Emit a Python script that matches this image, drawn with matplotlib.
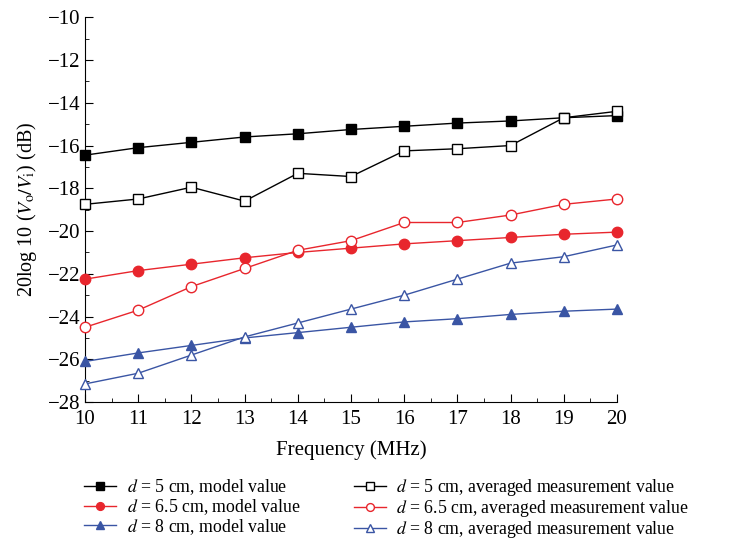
import matplotlib
matplotlib.use("Agg")
import matplotlib.pyplot as plt
from matplotlib.ticker import MultipleLocator

plt.rcParams["font.family"] = ["Liberation Serif", "DejaVu Serif"]
plt.rcParams["mathtext.fontset"] = "stix"

freq = [10, 11, 12, 13, 14, 15, 16, 17, 18, 19, 20]

d5_model = [-16.45, -16.1, -15.85, -15.6, -15.45, -15.25, -15.1, -14.95, -14.85, -14.7, -14.6]
d5_meas = [-18.75, -18.5, -17.95, -18.6, -17.3, -17.45, -16.25, -16.15, -16.0, -14.7, -14.4]
d65_model = [-22.25, -21.85, -21.55, -21.25, -21.0, -20.8, -20.6, -20.45, -20.3, -20.15, -20.05]
d65_meas = [-24.5, -23.7, -22.6, -21.75, -20.9, -20.45, -19.6, -19.6, -19.25, -18.75, -18.5]
d8_model = [-26.1, -25.7, -25.35, -25.0, -24.75, -24.5, -24.25, -24.1, -23.9, -23.75, -23.65]
d8_meas = [-27.15, -26.65, -25.8, -24.95, -24.3, -23.65, -23.0, -22.25, -21.5, -21.2, -20.65]

black = "#000000"
red = "#e8262d"
blue = "#3a55a4"

fig = plt.figure(figsize=(7.46, 5.39), dpi=100)
ax = fig.add_axes([0.114, 0.254, 0.713, 0.714])

series = [
    (d5_model, black, "s", True, r"$d$ = 5 cm, model value"),
    (d65_model, red, "o", True, r"$d$ = 6.5 cm, model value"),
    (d8_model, blue, "^", True, r"$d$ = 8 cm, model value"),
    (d5_meas, black, "s", False, r"$d$ = 5 cm, averaged measurement value"),
    (d65_meas, red, "o", False, r"$d$ = 6.5 cm, averaged measurement value"),
    (d8_meas, blue, "^", False, r"$d$ = 8 cm, averaged measurement value"),
]

for vals, c, m, filled, lab in series:
    ax.plot(freq, vals, color=c, marker=m, markersize=7.5, linewidth=1.0,
            markerfacecolor=c if filled else "white", markeredgecolor=c,
            markeredgewidth=1.0, label=lab, clip_on=False, zorder=3)

ax.set_xlim(10, 20)
ax.set_ylim(-28, -10)
ax.xaxis.set_major_locator(MultipleLocator(1))
ax.xaxis.set_minor_locator(MultipleLocator(0.5))
ax.yaxis.set_major_locator(MultipleLocator(2))
ax.yaxis.set_minor_locator(MultipleLocator(1))
ax.tick_params(which="both", direction="in", labelsize=15)
ax.tick_params(which="major", length=6)
ax.tick_params(which="minor", length=3)
ax.tick_params(axis="x", pad=6)
for s in ["top", "right"]:
    ax.spines[s].set_visible(False)

ax.set_xlabel("Frequency (MHz)", fontsize=15, labelpad=8)
ax.set_ylabel(r"20log 10 ($V_{\rm o}/V_{\rm i}$) (dB)", fontsize=14.5, labelpad=6)

handles, labels = ax.get_legend_handles_labels()
fig.legend(handles, labels, ncol=2, loc="upper left",
           bbox_to_anchor=(84 / 746, 1 - 477 / 539),
           frameon=False, fontsize=12.8, handlelength=1.8, handletextpad=0.6,
           columnspacing=3.0, labelspacing=0.0, borderaxespad=0.0,
           borderpad=0.0, markerscale=0.75)

fig.savefig("out.png", dpi=100)
